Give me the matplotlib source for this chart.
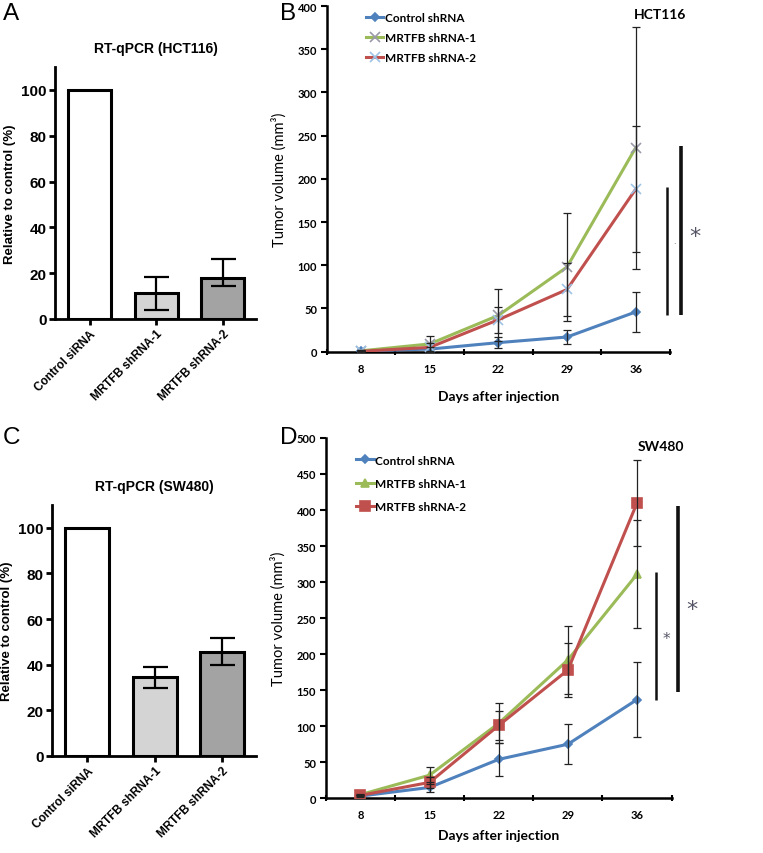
import matplotlib
matplotlib.use("Agg")
import matplotlib.pyplot as plt
import numpy as np

# ---------------- data ----------------
bar_labels = ["Control siRNA", "MRTFB shRNA-1", "MRTFB shRNA-2"]
bar_colors = ["#ffffff", "#d4d4d4", "#a3a3a3"]

hct_bar = [100, 11.4, 17.9]
hct_err_low = [0, 7.3, 3.5]
hct_err_high = [0, 7.0, 8.5]

sw_bar = [100, 34.5, 45.5]
sw_err_low = [0, 4.7, 5.6]
sw_err_high = [0, 4.4, 6.4]

days = ["8", "15", "22", "29", "36"]
series_names = ["Control shRNA", "MRTFB shRNA-1", "MRTFB shRNA-2"]
line_colors = ["#4F81BD", "#9BBB59", "#C0504D"]

hct_ctrl = [1, 3, 10.5, 17, 46]
hct_sh1 = [1, 9, 42, 98, 236]
hct_sh2 = [0.5, 5, 37, 72, 188]
hct_ctrl_err = [0.5, 2, 6.5, 8, 23]
hct_sh1_err = [0.5, 9, 30, 62, 140]
hct_sh2_err = [0.5, 5, 15, 31, 73]

sw_ctrl = [3, 15, 54, 75, 137]
sw_sh1 = [5, 32, 104, 192, 311]
sw_sh2 = [4, 22, 101, 178, 410]
sw_ctrl_err = [1, 7, 23, 28, 52]
sw_sh1_err = [1, 12, 28, 47, 75]
sw_sh2_err = [1, 8, 20, 38, 60]

# ---------------- figure ----------------
fig = plt.figure(figsize=(7.63, 8.54), dpi=100)
arial = "Liberation Sans"
cal = "Lato"


def bar_panel(rect, vals, elow, ehigh, title):
    ax = fig.add_axes(rect)
    x = np.arange(len(vals))
    ax.bar(x, vals, width=0.65, color=bar_colors, edgecolor="black",
           linewidth=2.2, zorder=2)
    ax.errorbar(x[1:], vals[1:], yerr=[elow[1:], ehigh[1:]], fmt="none",
                ecolor="black", elinewidth=1.6, capsize=9, capthick=1.6,
                zorder=3)
    ax.set_xlim(-0.52, 2.5)
    ax.set_ylim(0, 110)
    ax.set_yticks([0, 20, 40, 60, 80, 100])
    ax.set_xticks(x)
    ax.set_xticklabels(bar_labels, rotation=45, ha="right",
                       rotation_mode="anchor", fontsize=8.5,
                       fontweight="bold", family=arial)
    for lab in ax.get_yticklabels():
        lab.set_fontsize(11)
        lab.set_fontweight("bold")
        lab.set_family(arial)
    ax.spines["top"].set_visible(False)
    ax.spines["right"].set_visible(False)
    ax.spines["left"].set_linewidth(2)
    ax.spines["bottom"].set_linewidth(2)
    ax.tick_params(width=2, length=4, pad=2)
    ax.set_ylabel("Relative to control (%)", fontsize=9.5, fontweight="bold",
                  family=arial, labelpad=4)
    ax.set_title(title, fontsize=10, fontweight="bold", family=arial, pad=11)
    return ax


axA = bar_panel([0.0721, 0.6253, 0.2634, 0.2951], hct_bar, hct_err_low,
                hct_err_high, "RT-qPCR (HCT116)")
axC = bar_panel([0.0682, 0.1136, 0.2673, 0.2939], sw_bar, sw_err_low,
                sw_err_high, "RT-qPCR (SW480)")


def line_panel(rect, ymax, vals, errs, markers, mcolors, msizes, cell,
               leg_anchor, leg_space, xlabelpad):
    ax = fig.add_axes(rect)
    x = np.arange(len(days))
    handles = []
    for i in range(3):
        h, = ax.plot(x, vals[i], color=line_colors[i], lw=2.2,
                     marker=markers[i], markersize=msizes[i],
                     markerfacecolor=mcolors[i], markeredgecolor=mcolors[i],
                     markeredgewidth=1.2, zorder=3, label=series_names[i])
        handles.append(h)
    for i in range(3):
        ax.errorbar(x, vals[i], yerr=errs[i], fmt="none", ecolor="#222222",
                    elinewidth=0.9, capsize=3, capthick=0.9, zorder=4)
    ax.set_xlim(-0.5, 4.5)
    ax.set_ylim(0, ymax)
    ax.set_yticks(np.arange(0, ymax + 1, 50))
    ax.set_xticks(x)
    ax.set_xticklabels(days)
    ax.set_xticks(np.arange(-0.5, 4.6, 1), minor=True)
    ax.tick_params(axis="x", which="major", length=0, pad=8)
    ax.tick_params(axis="x", which="minor", length=4, width=1.5,
                   direction="inout")
    ax.tick_params(axis="y", length=4, width=1.5, direction="out", pad=3)
    for lab in ax.get_xticklabels() + ax.get_yticklabels():
        lab.set_fontsize(8)
        lab.set_fontweight("bold")
        lab.set_family(cal)
    ax.spines["top"].set_visible(False)
    ax.spines["right"].set_visible(False)
    ax.spines["left"].set_linewidth(1.8)
    ax.spines["bottom"].set_linewidth(1.8)
    ax.set_xlabel("Days after injection", fontsize=10, fontweight="bold",
                  family=cal, labelpad=xlabelpad)
    ax.set_ylabel("Tumor volume (mm³)", fontsize=10.5, fontweight="normal",
                  family=cal, labelpad=8)
    ax.text(4.35, ymax * 0.977, cell, fontsize=10, fontweight="bold",
            family=cal, ha="center", va="center")
    ax.legend(handles=handles, loc="upper left",
              bbox_to_anchor=leg_anchor, frameon=False,
              prop={"family": cal, "weight": "bold", "size": 8.5},
              handlelength=1.5, handletextpad=0.1, labelspacing=leg_space,
              borderaxespad=0.0)
    return ax


axB = line_panel([0.4282, 0.5870, 0.4499, 0.4048], 400,
                 [hct_ctrl, hct_sh1, hct_sh2],
                 [hct_ctrl_err, hct_sh1_err, hct_sh2_err],
                 ["D", "x", "x"], ["#4F81BD", "#9a9aa8", "#9dc3e6"],
                 [4, 7, 7], "HCT116", (0.10, 0.995), 0.75, 12)
axD = line_panel([0.4269, 0.0641, 0.4534, 0.4219], 500,
                 [sw_ctrl, sw_sh1, sw_sh2],
                 [sw_ctrl_err, sw_sh1_err, sw_sh2_err],
                 ["D", "^", "s"], line_colors, [4, 6, 6.5], "SW480",
                 (0.075, 0.967), 1.05, 6)

# significance bars
axB.plot([4.456, 4.456], [42.5, 190.6], color="#111111", lw=1.8,
         clip_on=False, solid_capstyle="butt")
axB.plot([4.665, 4.665], [42.5, 238], color="#111111", lw=2.6,
         clip_on=False, solid_capstyle="butt")
axB.text(4.87, 134, "*", fontsize=16, color="#555566", ha="center",
         va="center", clip_on=False, family="DejaVu Sans")
axB.text(4.56, 125, "·", fontsize=6, color="#555555", ha="center",
         va="center", clip_on=False)

axD.plot([4.28, 4.28], [136.8, 314.4], color="#111111", lw=1.8,
         clip_on=False, solid_capstyle="butt")
axD.plot([4.595, 4.595], [147, 405.6], color="#111111", lw=2.6,
         clip_on=False, solid_capstyle="butt")
axD.text(4.42, 222, "*", fontsize=11, color="#555566", ha="center",
         va="center", clip_on=False, family="DejaVu Sans")
axD.text(4.79, 262, "*", fontsize=16, color="#555566", ha="center",
         va="center", clip_on=False, family="DejaVu Sans")

# panel letters
for lab, (px, py) in {"A": (3, 3), "B": (280, 3), "C": (3, 427),
                      "D": (280, 427)}.items():
    fig.text(px / 763, 1 - py / 854, lab, fontsize=17.5, family=arial,
             ha="left", va="top")

fig.savefig("out.png", dpi=100)
